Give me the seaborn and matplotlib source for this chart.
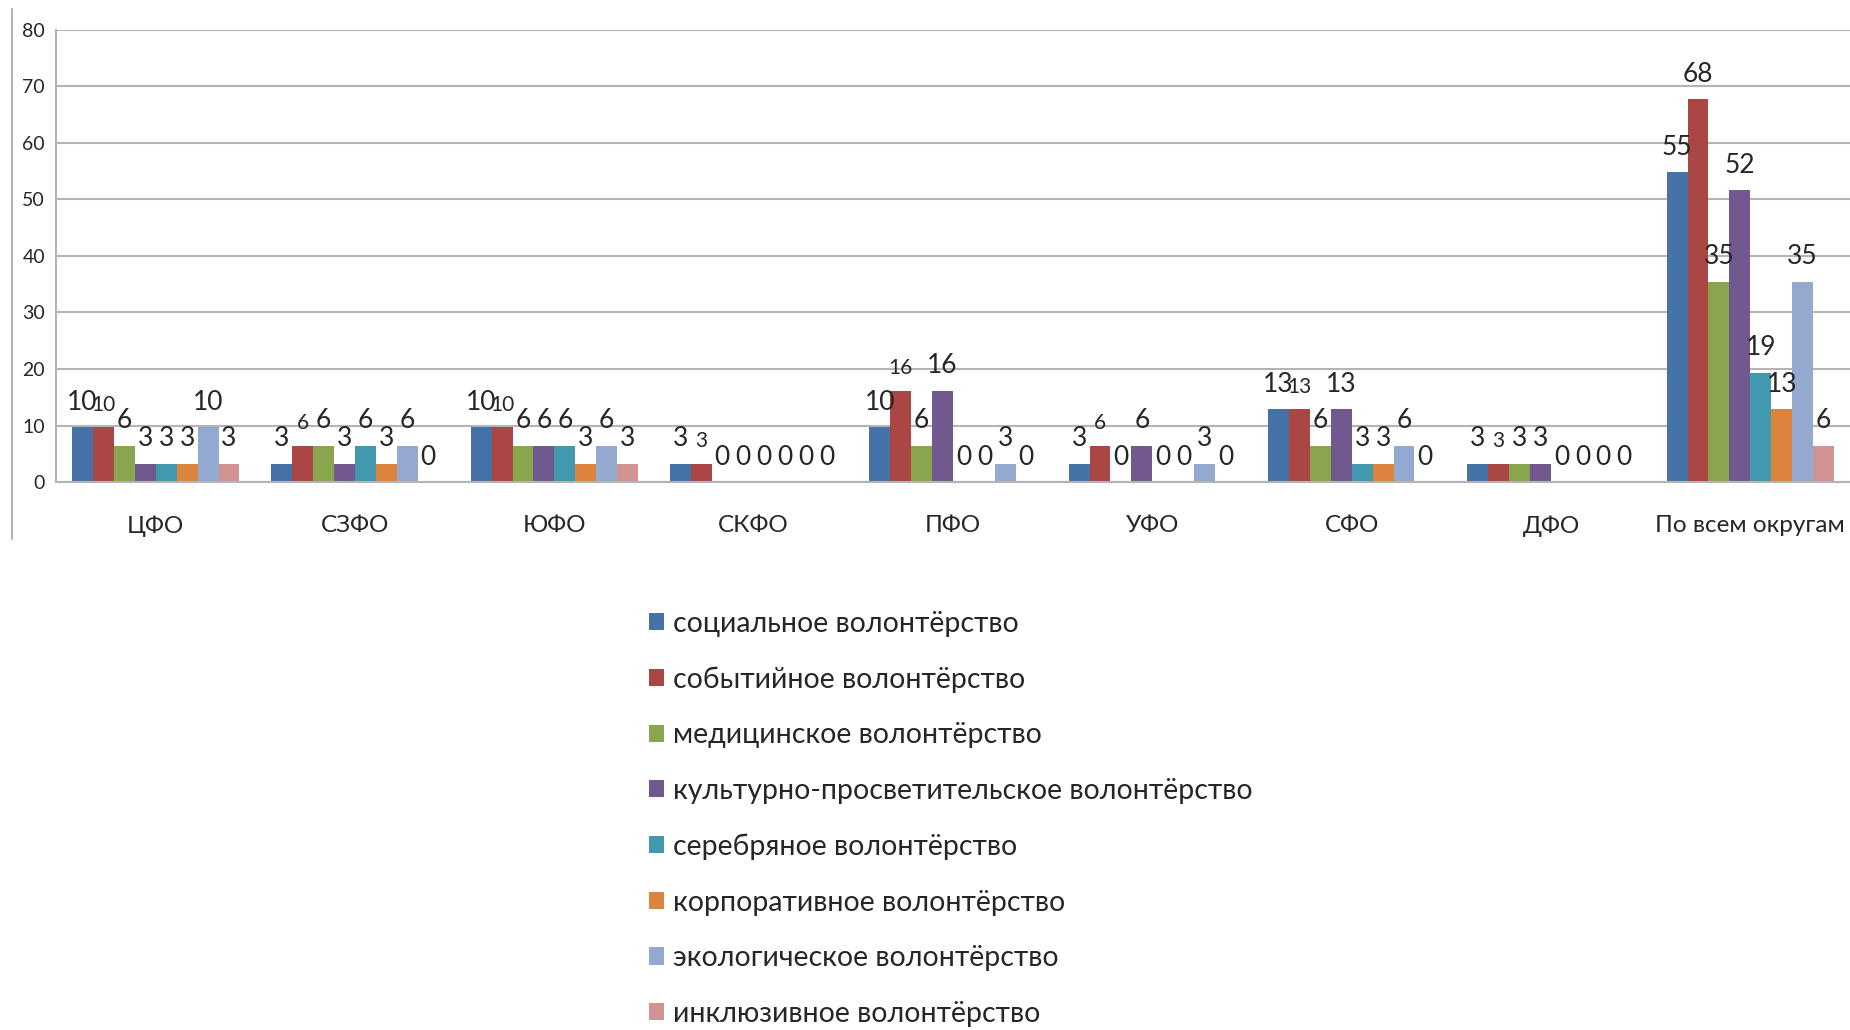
import pandas as pd
import numpy as np
import matplotlib
matplotlib.use('Agg')
import matplotlib.pyplot as plt
import seaborn as sns
from matplotlib.lines import Line2D

# districts on the x axis
districts = ['ЦФО', 'СЗФО', 'ЮФО', 'СКФО', 'ПФО', 'УФО', 'СФО', 'ДФО', 'По всем округам']

series_names = ['социальное волонтёрство',
                'событийное волонтёрство',
                'медицинское волонтёрство',
                'культурно-просветительское волонтёрство',
                'серебряное волонтёрство',
                'корпоративное волонтёрство',
                'экологическое волонтёрство',
                'инклюзивное волонтёрство']

# shares in %, one list per series (order of districts above)
social = [9.68, 3.23, 9.68, 3.23, 9.68, 3.23, 12.9, 3.23, 54.84]
event = [9.68, 6.45, 9.68, 3.23, 16.13, 6.45, 12.9, 3.23, 67.74]
medical = [6.45, 6.45, 6.45, 0, 6.45, 0, 6.45, 3.23, 35.48]
cultural = [3.23, 3.23, 6.45, 0, 16.13, 6.45, 12.9, 3.23, 51.61]
silver = [3.23, 6.45, 6.45, 0, 0, 0, 3.23, 0, 19.35]
corporate = [3.23, 3.23, 3.23, 0, 0, 0, 3.23, 0, 12.9]
ecology = [9.68, 6.45, 6.45, 0, 3.23, 3.23, 6.45, 0, 35.48]
inclusive = [3.23, 0, 3.23, 0, 0, 0, 0, 0, 6.45]

colors = ['#4572A7', '#AA4643', '#89A54E', '#71588F',
          '#4198AF', '#DB843D', '#93A9CF', '#D19392']

all_series = [social, event, medical, cultural, silver, corporate, ecology, inclusive]
rows = []
for name, vals in zip(series_names, all_series):
    for d, v in zip(districts, vals):
        rows.append({'district': d, 'type': name, 'value': v})
df = pd.DataFrame(rows)

sns.set_style('white')
plt.rcParams['font.family'] = ['Lato', 'DejaVu Sans']

fig = plt.figure(figsize=(18.5, 10.3), dpi=100)
ax = fig.add_axes([0.0303, 0.532, 0.9697, 0.439])

sns.barplot(data=df, x='district', y='value', hue='type', palette=colors,
            width=0.84, saturation=1, ax=ax, legend=True, edgecolor='none')

ax.set_ylim(0, 80)
ax.set_yticks(range(0, 81, 10))
ax.set_xlim(-0.5, len(districts) - 0.5)
ax.grid(axis='y', color='#B4B4B4', linewidth=1.5)
ax.set_axisbelow(True)
ax.set_xlabel('')
ax.set_ylabel('')
for s in ['top', 'right']:
    ax.spines[s].set_visible(False)
ax.spines['left'].set_color('#B4B4B4')
ax.spines['bottom'].set_color('#B4B4B4')
ax.spines['left'].set_linewidth(1.5)
ax.spines['bottom'].set_linewidth(1.5)
ax.tick_params(axis='y', labelsize=14, length=0, pad=8)
ax.tick_params(axis='x', labelsize=17.5, length=0, pad=24)

# value labels above the bars
for i, cont in enumerate(ax.containers):
    labels = ['%.0f' % b.get_height() for b in cont]
    if i == 1:
        # the second series has smaller labels except the total
        ax.bar_label(cont, labels=labels[:-1] + [''], padding=9, fontsize=15)
        ax.bar_label(cont, labels=[''] * (len(labels) - 1) + [labels[-1]], padding=9, fontsize=19)
    else:
        ax.bar_label(cont, labels=labels, padding=9, fontsize=19)

# legend below the chart
handles, labs = ax.get_legend_handles_labels()
ax.get_legend().remove()
fig.legend(handles, labs, loc='upper left', bbox_to_anchor=(0.343, 0.421),
           frameon=False, fontsize=20.5, handlelength=0.55, handleheight=0.55,
           handletextpad=0.3, labelspacing=1.04, borderpad=0)

# separate thin vertical line at the far left
fig.add_artist(Line2D([0.0065, 0.0065], [0.477, 0.991], color='#B4B4B4',
                      linewidth=1.5, transform=fig.transFigure))

fig.savefig('out.png', dpi=100)
